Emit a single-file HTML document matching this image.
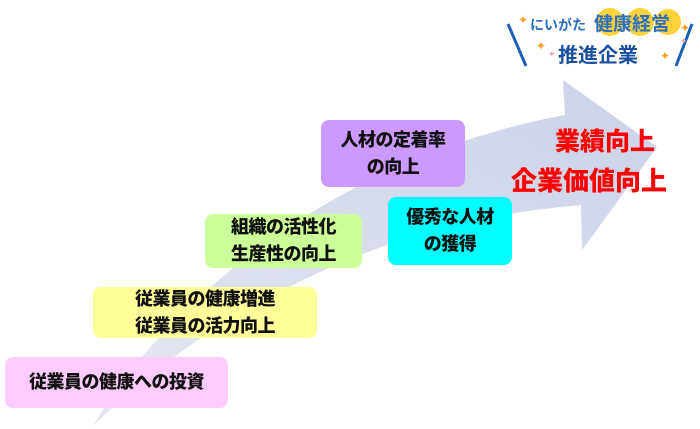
<!DOCTYPE html>
<html><head><meta charset="utf-8"><style>
body{margin:0;width:700px;height:429px;background:#fff;position:relative;overflow:hidden;font-family:"Liberation Sans","Noto Sans CJK JP",sans-serif}
.b{position:absolute;border-radius:8px;display:flex;align-items:center;justify-content:center;text-align:center;font-weight:900;font-size:18px;line-height:27px;color:#111;letter-spacing:-0.5px}
.r{position:absolute;color:#f00;font-weight:900;font-size:25px;white-space:nowrap}
</style></head><body>
<svg width="700" height="429" style="position:absolute;left:0;top:0">
<defs><linearGradient id="g" x1="0" y1="1" x2="1" y2="0"><stop offset="0" stop-color="#e4e7f2"/><stop offset="1" stop-color="#ccd2e8"/></linearGradient></defs>
<path d="M92,427 C150,330 250,240 370,180 C440,145 510,125 565,115 L563,80 L657,147 L582,250 L581,205 C500,212 430,228 360,255 C260,295 170,350 92,427 Z" fill="url(#g)"/>
</svg>
<div class="b" style="left:5px;top:357px;width:223px;height:51px;background:#ffccff">従業員の健康への投資</div>
<div class="b" style="left:93px;top:287px;width:224px;height:51px;background:#ffff99">従業員の健康増進<br>従業員の活力向上</div>
<div class="b" style="left:205px;top:214px;width:157px;height:54px;background:#ccff99">組織の活性化<br>生産性の向上</div>
<div class="b" style="left:321px;top:120px;width:144px;height:67px;background:#cc99ff">人材の定着率<br>の向上</div>
<div class="b" style="left:388px;top:197px;width:124px;height:68px;background:#00ffff">優秀な人材<br>の獲得</div>
<div class="r" style="left:555px;top:122px">業績向上</div>
<div class="r" style="left:511px;top:161px;font-size:26px">企業価値向上</div>
<svg width="200" height="72" style="position:absolute;left:500px;top:2px">
<line x1="8" y1="22" x2="26" y2="64" stroke="#1a5fb4" stroke-width="3"/>
<line x1="192" y1="22" x2="176" y2="64" stroke="#1a5fb4" stroke-width="3"/>
<circle cx="110" cy="20" r="14" fill="#ffd23a"/><circle cx="140" cy="20" r="14" fill="#ffd23a"/><circle cx="168" cy="20" r="13" fill="#ffd23a"/>
<text x="30" y="28" font-size="14" font-weight="bold" fill="#2a6fc0" font-family="Liberation Sans,Noto Sans CJK JP,sans-serif">にいがた</text>
<text x="94" y="28" font-size="19" font-weight="bold" fill="#2a6fc0" font-family="Liberation Sans,Noto Sans CJK JP,sans-serif">健康経営</text>
<text x="58" y="60" font-size="20" font-weight="bold" fill="#1a4fa0" font-family="Liberation Sans,Noto Sans CJK JP,sans-serif">推進企業</text>
<text x="18" y="22" font-size="12" fill="#f5a020">✦</text><text x="36" y="48" font-size="12" fill="#f5a020">✦</text>
<text x="180" y="30" font-size="12" fill="#f5a020">✦</text><text x="160" y="58" font-size="12" fill="#f5a020">✦</text>
<text x="48" y="55" font-size="9" fill="#f0a0c0">✦</text><text x="180" y="42" font-size="9" fill="#f0a0c0">✦</text>
</svg>
</body></html>
